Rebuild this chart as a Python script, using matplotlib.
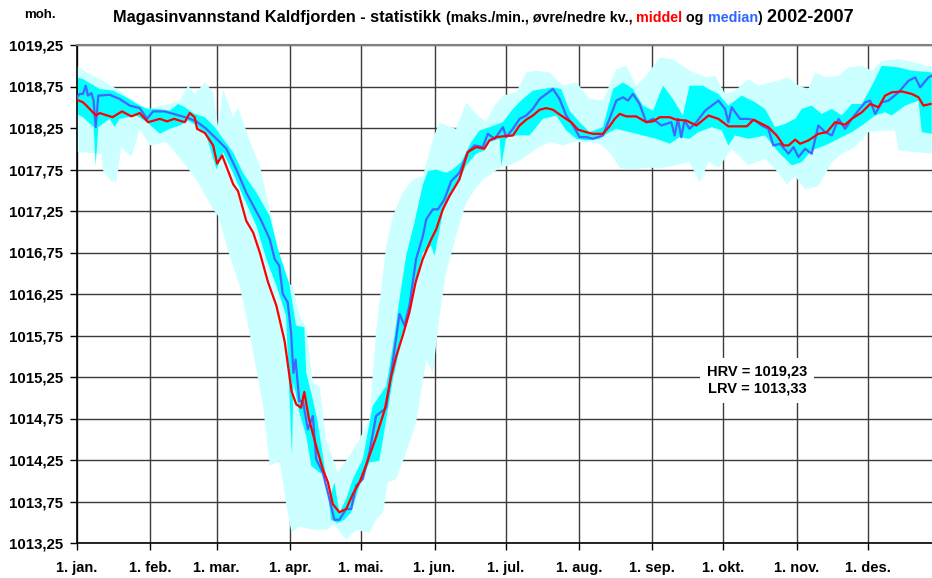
import numpy as np
import matplotlib
matplotlib.use("Agg")
import matplotlib.pyplot as plt

plt.rcParams['font.family'] = ['Liberation Sans', 'DejaVu Sans']

# month starts (day of year) and labels
month_days = [0, 31, 59, 90, 120, 151, 181, 212, 243, 273, 304, 334]
month_labels = ['1. jan.', '1. feb.', '1. mar.', '1. apr.', '1. mai.', '1. jun.',
                '1. jul.', '1. aug.', '1. sep.', '1. okt.', '1. nov.', '1. des.']

# middel (mean)
mean_day = [0, 2.5, 4, 8, 9.6, 15, 19, 23, 26.5, 30, 35, 38, 41, 45.5, 47.6, 49.7, 50.7, 54, 57.5, 59.2,
            61.3, 66, 68, 71.5, 74.4, 77.2, 80.7, 84.2, 87.7, 90.6, 92.6, 94.6, 96, 98, 101, 103.8, 106,
            108, 110.8, 113.7, 116.5, 119.3, 122, 126, 130, 132.7, 134.8, 137.6, 140.4, 143, 146, 149.6,
            151.7, 154.5, 157.3, 161.5, 165, 168.6, 172, 174.2, 177.1, 180, 184.1, 186.9, 189.7, 192.5,
            195.4, 198.2, 201, 204.5, 208.7, 211.6, 215.1, 217.9, 222.1, 224.9, 227.1, 229.2, 232, 236.2,
            240.4, 243.3, 246.1, 250.3, 253.1, 257.3, 261.6, 266.7, 270.9, 275.1, 279.3, 282.9, 285.7,
            289.2, 292, 295.5, 298.4, 300.5, 303.3, 305.4, 308.9, 313.1, 316.7, 320.2, 324.4, 327.2,
            331.5, 335, 338.5, 341.3, 344.1, 348.4, 352.6, 355.4, 357.5, 360.5]
mean_val = [1018.59, 1018.56, 1018.52, 1018.40, 1018.43, 1018.38, 1018.45, 1018.39, 1018.43, 1018.32,
            1018.36, 1018.33, 1018.36, 1018.32, 1018.43, 1018.38, 1018.24, 1018.19, 1018.04, 1017.82,
            1017.92, 1017.57, 1017.49, 1017.13, 1016.99, 1016.75, 1016.39, 1016.11, 1015.68, 1015.08,
            1014.92, 1014.88, 1015.07, 1014.74, 1014.42, 1014.14, 1013.98, 1013.72, 1013.62, 1013.66,
            1013.84, 1013.98, 1014.18, 1014.50, 1014.86, 1015.26, 1015.50, 1015.75, 1016.03, 1016.39,
            1016.67, 1016.91, 1017.03, 1017.27, 1017.43, 1017.63, 1017.96, 1018.02, 1018.00, 1018.10,
            1018.14, 1018.15, 1018.16, 1018.28, 1018.35, 1018.40, 1018.47, 1018.49, 1018.47, 1018.40,
            1018.32, 1018.23, 1018.20, 1018.18, 1018.18, 1018.27, 1018.36, 1018.42, 1018.39, 1018.39,
            1018.32, 1018.33, 1018.38, 1018.38, 1018.35, 1018.34, 1018.28, 1018.40, 1018.36, 1018.27,
            1018.27, 1018.27, 1018.35, 1018.30, 1018.26, 1018.16, 1018.04, 1018.04, 1018.11, 1018.06,
            1018.10, 1018.18, 1018.20, 1018.32, 1018.29, 1018.36, 1018.44, 1018.54, 1018.50, 1018.64,
            1018.68, 1018.69, 1018.66, 1018.62, 1018.52, 1018.54]

# median
median_day = [0, 1.1, 2.5, 3.7, 4.6, 6.1, 7, 7.9, 9, 13.8, 18, 22.3, 26.5, 29.6, 32.1, 37, 42, 46.9, 50.4,
              54.6, 59.6, 63.1, 67.3, 71.5, 77.9, 81.4, 83.5, 85.4, 86.9, 89, 90.4, 91.4, 92.3, 93.9,
              95.4, 97.5, 99.6, 101, 103.8, 106.6, 108.7, 110.8, 113.7, 115.8, 117.9, 120.7, 123.5,
              126.3, 130.6, 132.7, 136.2, 138.3, 140.4, 143.2, 146.1, 147.5, 150.3, 152.4, 155.2, 158,
              161.5, 165.1, 167.9, 171.4, 173.5, 176.4, 179.9, 181.3, 184.1, 186.9, 189.7, 192.5, 195.4,
              198.2, 201, 203.8, 206.6, 209.5, 212.3, 215.1, 217.9, 222.1, 224.9, 227.8, 230.6, 232.7,
              234.8, 237.6, 240.4, 243.3, 246.8, 251, 252.4, 253.8, 255.2, 256.6, 258.7, 261.6, 265.3,
              268.1, 270.9, 273.7, 275.1, 276.5, 280, 283.6, 286.4, 289.2, 292, 294.1, 296.9, 300.5,
              302.6, 304.7, 307.5, 310.3, 313.1, 316, 318.8, 321.6, 324.4, 327.2, 330, 332.9, 335,
              337.1, 339.9, 342.7, 347, 351.2, 354, 356.1, 359.6, 361]
median_val = [1018.62, 1018.66, 1018.66, 1018.76, 1018.64, 1018.67, 1018.58, 1018.26, 1018.64, 1018.65,
              1018.60, 1018.52, 1018.49, 1018.36, 1018.45, 1018.45, 1018.41, 1018.37, 1018.33, 1018.24,
              1018.10, 1018.00, 1017.75, 1017.47, 1017.13, 1016.91, 1016.67, 1016.59, 1016.25, 1016.15,
              1015.79, 1015.30, 1015.46, 1014.96, 1014.96, 1014.62, 1014.78, 1014.26, 1014.10, 1013.78,
              1013.53, 1013.53, 1013.66, 1013.66, 1013.94, 1014.02, 1014.34, 1014.78, 1014.88, 1015.30,
              1016.01, 1015.87, 1016.11, 1016.67, 1016.95, 1017.15, 1017.27, 1017.27, 1017.39, 1017.61,
              1017.71, 1017.96, 1018.04, 1018.02, 1018.18, 1018.12, 1018.26, 1018.14, 1018.24, 1018.36,
              1018.40, 1018.48, 1018.60, 1018.66, 1018.72, 1018.60, 1018.40, 1018.28, 1018.14, 1018.14,
              1018.12, 1018.16, 1018.36, 1018.58, 1018.62, 1018.58, 1018.66, 1018.54, 1018.32, 1018.36,
              1018.28, 1018.32, 1018.16, 1018.36, 1018.14, 1018.34, 1018.24, 1018.32, 1018.46, 1018.52,
              1018.58, 1018.48, 1018.32, 1018.50, 1018.36, 1018.36, 1018.34, 1018.28, 1018.24, 1018.04,
              1018.06, 1017.94, 1018.02, 1017.90, 1018.00, 1017.94, 1018.28, 1018.20, 1018.16, 1018.36,
              1018.24, 1018.36, 1018.46, 1018.56, 1018.58, 1018.42, 1018.56, 1018.58, 1018.68, 1018.82,
              1018.86, 1018.74, 1018.86, 1018.88]

# upper quartile (ovre kv.)
uq_day = [0, 2.5, 9.6, 15.2, 20.8, 26.5, 29.6, 33.5, 39.2, 42.7, 45.5, 49.7, 54, 58.2, 61.7, 65.9, 70.1,
          75.8, 81.4, 84.9, 89.7, 92.5, 96, 96.8, 99.6, 101.7, 104.5, 106.6, 108.7, 110.8, 113.7, 116.5,
          120.7, 124.9, 130.6, 134.1, 136.2, 139, 142.5, 146.1, 148.2, 151.7, 155.9, 158.7, 162.3, 166.5,
          170, 174.2, 179.9, 184.1, 188.3, 192.5, 196.8, 201, 204.5, 208, 212.3, 216.5, 222.1, 226.4,
          230.6, 234.8, 239, 243.3, 247.5, 251.7, 255.9, 258.7, 264.4, 266.7, 270.9, 275.1, 280.7,
          286.4, 290.6, 294.8, 299.1, 303.3, 306.1, 310.3, 314.5, 318.8, 323, 327.2, 331.5, 335.7,
          339.9, 347, 352.6, 361]
uq_val = [1018.86, 1018.84, 1018.72, 1018.70, 1018.62, 1018.52, 1018.48, 1018.48, 1018.46, 1018.54,
          1018.50, 1018.42, 1018.38, 1018.26, 1018.12, 1017.96, 1017.71, 1017.47, 1017.19, 1016.79,
          1016.37, 1015.87, 1015.85, 1015.30, 1014.98, 1014.70, 1014.18, 1013.78, 1013.98, 1013.62,
          1013.78, 1014.02, 1014.26, 1014.90, 1015.14, 1015.75, 1016.19, 1016.71, 1017.11, 1017.57,
          1017.73, 1017.75, 1017.71, 1017.75, 1017.84, 1018.08, 1018.22, 1018.26, 1018.32, 1018.48,
          1018.60, 1018.70, 1018.72, 1018.74, 1018.72, 1018.46, 1018.32, 1018.20, 1018.26, 1018.72,
          1018.80, 1018.72, 1018.52, 1018.46, 1018.76, 1018.60, 1018.40, 1018.76, 1018.76, 1018.72,
          1018.66, 1018.52, 1018.64, 1018.56, 1018.48, 1018.26, 1018.30, 1018.36, 1018.48, 1018.52,
          1018.42, 1018.48, 1018.40, 1018.54, 1018.54, 1018.76, 1019.00, 1018.98, 1018.94, 1018.92]

# lower quartile (nedre kv.)
lq_day = [0, 2.5, 7, 7.9, 9, 13.8, 15.9, 18, 25, 29.6, 35, 39.2, 43.4, 46.9, 50.4, 54.6, 58.9, 61.7, 65.9,
          70.1, 75.8, 80, 84.2, 88.3, 90.8, 91.4, 93.9, 96.8, 98.9, 102.4, 105.2, 107.3, 110.1, 113,
          115.8, 119.3, 123.5, 127.7, 130.6, 133.4, 137.6, 141.8, 146.1, 149.6, 151, 154.5, 157.3,
          161.5, 164.4, 168.6, 172.1, 174.2, 178.5, 179.2, 181.3, 185.5, 191.1, 196.8, 202.4, 206.6,
          210.9, 215.1, 220.7, 224.9, 227.8, 233.4, 239, 244.7, 250.3, 254.5, 258.7, 262.4, 268.1,
          272.3, 275.1, 277.9, 283.6, 290.6, 296.2, 301.9, 306.1, 310.3, 316, 321.6, 327.2, 331.5,
          337.1, 341.3, 344.1, 349.8, 355.4, 356.8, 361]
lq_val = [1018.42, 1018.38, 1018.26, 1017.80, 1018.26, 1018.36, 1018.26, 1018.36, 1018.40, 1018.32,
          1018.18, 1018.24, 1018.28, 1018.34, 1018.28, 1018.16, 1017.75, 1017.96, 1017.71, 1017.43,
          1017.07, 1016.67, 1016.35, 1015.99, 1014.30, 1015.20, 1014.82, 1014.54, 1014.18, 1014.10,
          1014.06, 1013.53, 1013.49, 1013.53, 1013.62, 1013.94, 1014.22, 1014.24, 1014.74, 1015.22,
          1015.75, 1016.23, 1016.75, 1016.83, 1016.71, 1017.23, 1017.41, 1017.63, 1017.80, 1017.94,
          1017.98, 1018.08, 1018.12, 1017.80, 1018.14, 1018.16, 1018.16, 1018.36, 1018.40, 1018.22,
          1018.12, 1018.10, 1018.12, 1018.20, 1018.24, 1018.20, 1018.16, 1018.12, 1018.06, 1018.14,
          1018.12, 1018.20, 1018.26, 1018.22, 1018.04, 1018.16, 1018.12, 1018.16, 1017.96, 1017.80,
          1017.84, 1017.98, 1018.04, 1018.12, 1018.20, 1018.28, 1018.40, 1018.44, 1018.40, 1018.52,
          1018.58, 1018.20, 1018.18]

# maks
max_day = [0, 3.9, 11, 18, 25, 30.7, 35, 39.2, 43.4, 46.9, 49.7, 54, 57.5, 59.6, 61.7, 65.9, 68, 73.7,
           77.2, 81.4, 84.9, 88.3, 91.1, 93.9, 96.8, 99.6, 102.4, 105.2, 110.1, 115.1, 119.3, 123.5,
           126.3, 130.6, 133.4, 137.6, 141.8, 146.1, 150.3, 153.1, 155.9, 160.1, 164.4, 168.6, 172.8,
           176.3, 179.9, 185.5, 189.7, 193.9, 199.6, 205.2, 210.9, 216.5, 222.1, 227.8, 232, 236.2,
           240.4, 246.1, 251.7, 258.7, 264.4, 266.7, 269.5, 273.7, 277.9, 283.6, 287.8, 293.4, 300.5,
           304.7, 308.9, 311.7, 316, 321.6, 325.8, 331.5, 335.7, 339.9, 347, 354, 361]
max_val = [1019.00, 1018.92, 1018.82, 1018.70, 1018.56, 1018.48, 1018.52, 1018.54, 1018.58, 1018.76,
           1018.66, 1018.80, 1018.68, 1018.26, 1018.72, 1018.38, 1018.50, 1018.04, 1017.80, 1017.27,
           1016.79, 1016.39, 1016.35, 1015.99, 1015.85, 1015.18, 1015.14, 1014.50, 1014.10, 1014.30,
           1014.50, 1014.74, 1015.79, 1016.83, 1017.19, 1017.47, 1017.63, 1017.67, 1018.12, 1018.32,
           1018.28, 1018.24, 1018.56, 1018.42, 1018.32, 1018.52, 1018.64, 1018.68, 1018.92, 1018.94,
           1018.92, 1018.76, 1018.80, 1018.60, 1018.58, 1018.96, 1019.00, 1018.76, 1018.88, 1019.10,
           1019.08, 1018.94, 1018.88, 1018.86, 1018.88, 1018.66, 1018.70, 1018.84, 1018.76, 1018.80,
           1018.86, 1018.76, 1018.72, 1018.92, 1018.86, 1018.88, 1018.98, 1019.00, 1018.94, 1019.06,
           1019.08, 1019.04, 1018.98]

# min
min_day = [0, 10.3, 11, 14.5, 16.6, 18.7, 23, 26.5, 30.7, 37.7, 44.8, 50.4, 57.5, 59.6, 64.5, 68.7, 72.9,
           78.6, 81.4, 85.6, 88.5, 90.6, 93.9, 99.6, 105.2, 108.7, 113.7, 117.9, 123.5, 126.3, 129.2,
           131.3, 134.8, 139, 143.2, 147.5, 150.3, 153.1, 155.9, 160.1, 164.4, 168.6, 171.4, 175.6,
           178.5, 182.7, 188.3, 193.9, 199.6, 205.2, 209.5, 216.5, 220.7, 224.9, 229.2, 233.4, 240.4,
           247.5, 253.1, 258.7, 263, 266.7, 270.9, 276.5, 283.6, 290.6, 296.2, 299.8, 303.3, 307.5,
           313.1, 318.8, 323, 328.6, 334.3, 341.3, 345.5, 347, 354, 361]
min_val = [1017.96, 1017.94, 1017.74, 1017.61, 1017.60, 1018.02, 1017.90, 1018.24, 1018.04, 1018.08,
           1017.84, 1017.63, 1017.27, 1017.19, 1016.71, 1016.35, 1015.78, 1014.90, 1014.18, 1014.24,
           1013.69, 1013.37, 1013.45, 1013.41, 1013.41, 1013.47, 1013.29, 1013.41, 1013.37, 1013.53,
           1013.62, 1013.98, 1014.02, 1014.34, 1014.70, 1015.46, 1015.30, 1015.99, 1016.51, 1016.95,
           1017.35, 1017.53, 1017.63, 1017.71, 1017.77, 1017.80, 1017.88, 1018.00, 1018.08, 1018.04,
           1018.08, 1018.08, 1018.06, 1017.96, 1017.77, 1017.75, 1017.77, 1017.77, 1017.80, 1017.84,
           1017.59, 1017.84, 1017.77, 1018.00, 1017.80, 1017.88, 1017.71, 1017.57, 1017.67, 1017.51,
           1017.55, 1017.84, 1017.94, 1018.02, 1018.20, 1018.22, 1018.22, 1017.98, 1017.96, 1017.94]

hrv = 1019.23
lrv = 1013.33

fig = plt.figure(figsize=(9.32, 5.78), dpi=100)
ax = fig.add_axes([77 / 932, 35 / 578, 855 / 932, 498 / 578])

# bands: max/min then quartiles
ax.fill(np.r_[max_day, min_day[::-1]], np.r_[max_val, min_val[::-1]], color='#CCFFFF', lw=0, zorder=1)
ax.fill(np.r_[uq_day, lq_day[::-1]], np.r_[uq_val, lq_val[::-1]], color='#00FFFF', lw=0, zorder=2)
ax.plot(median_day, median_val, color='#4466FF', lw=1.6, zorder=3)
ax.plot(mean_day, mean_val, color='#FF0000', lw=1.6, zorder=4)

ax.set_xlim(0, 361.1)
ax.set_ylim(1013.25, 1019.25)

yt = np.arange(1013.25, 1019.26, 0.5)
ax.set_yticks(yt)
ax.set_yticklabels([f"{v:.2f}".replace('.', ',') for v in yt], fontsize=10.8, fontweight='bold')
ax.set_xticks(month_days)
ax.set_xticklabels(month_labels, fontsize=10.5, fontweight='bold')
ax.tick_params(axis='both', direction='out', length=5, width=1, color='black', pad=5)
ax.tick_params(axis='x', pad=8)

ax.set_axisbelow(True)
ax.grid(True, color='#3a3a3a', lw=1.0)

ax.spines['right'].set_visible(False)
ax.spines['top'].set_color('#808080')
ax.spines['top'].set_linewidth(1.5)
ax.spines['left'].set_linewidth(1.2)
ax.spines['bottom'].set_linewidth(1.2)

ax.text(287.2, 1015.21, f"HRV = {hrv:.2f}".replace('.', ',') + "\n" + f"LRV = {lrv:.2f}".replace('.', ','),
        ha='center', va='center', fontsize=10.5, fontweight='bold', linespacing=1.3, zorder=6,
        bbox=dict(facecolor='white', edgecolor='none', pad=5))

fig.text(24 / 932, 1 - 18 / 578, "moh.", fontsize=9.5, fontweight='bold', va='baseline')

# title made of coloured pieces
renderer = fig.canvas.get_renderer()
parts = [("Magasinvannstand Kaldfjorden - statistikk ", 11.8, 'black'),
         ("(maks./min., øvre/nedre kv., ", 10.3, 'black'),
         ("middel", 10.3, '#FF0000'),
         (" og ", 10.3, 'black'),
         ("median", 10.3, '#3366FF'),
         (")", 10.3, 'black'),
         (" 2002-2007", 13, 'black')]
x = 113 / 932
for s, size, col in parts:
    t = fig.text(x, 1 - 22 / 578, s, fontsize=size, color=col, fontweight='bold', va='baseline')
    x += t.get_window_extent(renderer=renderer).width / fig.bbox.width

fig.savefig("out.png", dpi=100)
